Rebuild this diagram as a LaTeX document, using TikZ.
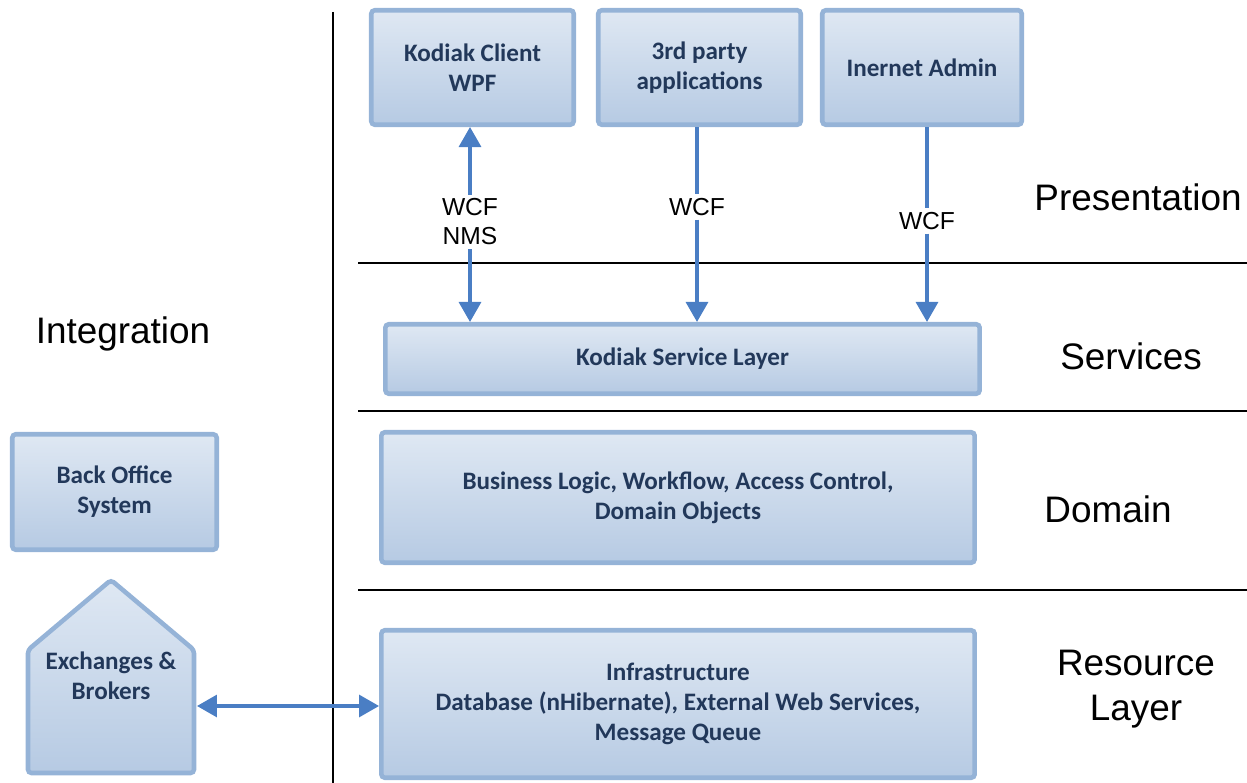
\documentclass[tikz,border=0pt]{standalone}
\usepackage{fontspec}
\setmainfont{Liberation Sans}
\newfontfamily\boxfont{Carlito}
\usetikzlibrary{arrows.meta}
\definecolor{boxLine}{HTML}{95B3D7}
\definecolor{boxTop}{HTML}{DFE8F3}
\definecolor{boxBottom}{HTML}{B6CAE3}
\definecolor{boxText}{HTML}{22385A}
\definecolor{connBlue}{HTML}{4A7EC4}
\tikzset{
  layerShape/.style={draw=boxLine, line width=2.6pt, rounded corners=2pt, top color=boxTop, bottom color=boxBottom},
  boxText/.style={text=boxText, font=\boxfont\bfseries\fontsize{14.3}{17}\selectfont, align=center},
  layerBox/.style={rectangle, layerShape, boxText, inner sep=0pt},
  layerLabel/.style={font=\fontsize{21}{25.5}\selectfont, align=center},
  protoLabel/.style={font=\fontsize{14}{16.5}\selectfont, align=center, inner sep=2pt},
  sepLine/.style={line width=1.5pt, black},
  connLine/.style={draw=connBlue, line width=1.8pt},
  conn/.style={connLine, -{Triangle[length=0.4cm, width=0.44cm]}},
  biconn/.style={conn, {Triangle[length=0.4cm, width=0.44cm]}-{Triangle[length=0.4cm, width=0.44cm]}},
}
\begin{document}
\begin{tikzpicture}[x=0.02cm, y=-0.02cm]
\useasboundingbox (0,0) rectangle (1247,783);

\draw[sepLine] (333,12) -- (333,783);
\draw[sepLine] (358,263) -- (1247,263);
\draw[sepLine] (358,411) -- (1247,411);
\draw[sepLine] (358,590) -- (1247,590);

\node[layerBox, minimum width=4.05cm, minimum height=2.29cm] (kodiakClient) at (472.5,67.5) {Kodiak Client\\WPF};
\node[layerBox, minimum width=4.05cm, minimum height=2.29cm] (thirdParty) at (699.5,67.5) {3rd party\\applications};
\node[layerBox, minimum width=3.99cm, minimum height=2.29cm] (internetAdmin) at (922,67.5) {Inernet Admin};

\node[layerBox, minimum width=11.89cm, minimum height=1.39cm] (serviceLayer) at (682.5,359) {Kodiak Service Layer};
\node[layerBox, minimum width=11.87cm, minimum height=2.61cm] (domainBox) at (678,497.5) {Business Logic, Workflow, Access Control,\\Domain Objects};
\node[layerBox, minimum width=11.87cm, minimum height=2.95cm] (infraBox) at (678,704) {Infrastructure\\Database (nHibernate), External Web Services,\\Message Queue};

\node[layerBox, minimum width=4.09cm, minimum height=2.31cm] (backOffice) at (114.5,492) {Back Office\\System};

\path[layerShape] (28,773) -- (28,650) -- (111,580) -- (194,650) -- (194,773) -- cycle;
\node[boxText] (exchanges) at (111,676) {Exchanges \&\\Brokers};
\coordinate (exchangesEdge) at (197,706);

\node[protoLabel] (kcProto) at (470,222) {WCF\\NMS};
\node[protoLabel] (tpProto) at (697,207) {WCF};
\node[protoLabel] (iaProto) at (927,221) {WCF};

\draw[conn] (kcProto.north) -- (kcProto.north |- kodiakClient.south);
\draw[conn] (kcProto.south) -- (kcProto.south |- serviceLayer.north);
\draw[connLine] (tpProto.north |- thirdParty.south) -- (tpProto.north);
\draw[conn] (tpProto.south) -- (tpProto.south |- serviceLayer.north);
\draw[connLine] (iaProto.north |- internetAdmin.south) -- (iaProto.north);
\draw[conn] (iaProto.south) -- (iaProto.south |- serviceLayer.north);
\draw[biconn] (exchangesEdge) -- (exchangesEdge -| infraBox.west);

\node[layerLabel] (presentationLabel) at (1138,197) {Presentation};
\node[layerLabel] (servicesLabel) at (1131,356) {Services};
\node[layerLabel] (domainLabel) at (1108,509) {Domain};
\node[layerLabel] (resourceLabel) at (1136,689) {Resource\\Layer};
\node[layerLabel] (integrationLabel) at (123,334) {Integration};
\end{tikzpicture}
\end{document}
